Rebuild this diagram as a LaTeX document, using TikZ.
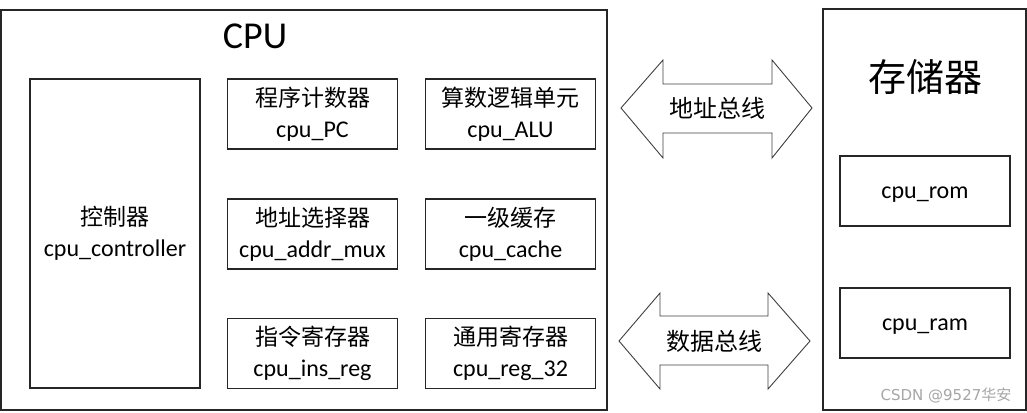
\documentclass[tikz,border=0pt]{standalone}
\usepackage{fontspec}
\setmainfont{Carlito}
\newfontfamily\cjk{Noto Sans CJK SC}
\begin{document}
\begin{tikzpicture}[x=1pt,y=-1pt,
  frame/.style={draw=black!85, line width=1.2pt},
  unit/.style={draw=black!85, line width=1.1pt, minimum width=170pt, minimum height=70pt, inner sep=0pt, align=center, font=\fontsize{24}{31}\selectfont},
  unittext/.style={font=\fontsize{24}{31}\selectfont, inner sep=0pt},
  bus/.style={draw=black!75, line width=0.9pt, fill=white},
  buslabel/.style={font=\fontsize{24}{28}\selectfont\cjk}]
\useasboundingbox (0,0) rectangle (1027,412);
\fill[white] (0,0) rectangle (1027,412);
% CPU frame
\draw[frame] (1,10) rectangle (607,410);
\node[font=\fontsize{38}{42}\selectfont] (cputitle) at (255,36) {CPU};
% controller
\node[unit, minimum height=309pt] (ctrl) at (115,233.5) {{\cjk\fontsize{23}{31}\selectfont 控制器}\\cpu\_controller};
% units
\node[unit] (pc)  at (312.5,114) {{\cjk\fontsize{23}{31}\selectfont 程序计数器}\\cpu\_PC};
\node[unit] (alu) at (510.5,114) {{\cjk\fontsize{23}{31}\selectfont 算数逻辑单元}\\cpu\_ALU};
\node[unit] (mux) at (312.5,234) {{\cjk\fontsize{23}{31}\selectfont 地址选择器}\\cpu\_addr\_mux};
\node[unit] (cache) at (510.5,234) {{\cjk\fontsize{23}{31}\selectfont 一级缓存}\\cpu\_cache};
\node[unit] (ins) at (312.5,353.5) {{\cjk\fontsize{23}{31}\selectfont 指令寄存器}\\cpu\_ins\_reg};
\node[unit] (reg) at (510.5,353.5) {{\cjk\fontsize{23}{31}\selectfont 通用寄存器}\\cpu\_reg\_32};
% memory frame
\draw[frame] (823,9) rectangle (1026,410);
\node[font=\fontsize{38}{42}\selectfont\cjk] (memtitle) at (925,77) {存储器};
\node[unit] (rom) at (925,191) {};
\node[unittext] (romtxt) at ([yshift=-4pt]rom.center) {cpu\_rom};
\node[unit] (ram) at (925,323) {};
\node[unittext] (ramtxt) at ([yshift=-4pt]ram.center) {cpu\_ram};
% address bus
\draw[bus] (621,108) -- (663,60) -- (663,84) -- (772,84) -- (772,60) -- (812,108)
  -- (772,158) -- (772,133) -- (663,133) -- (663,158) -- cycle;
\node[buslabel] (abus) at (717,108) {地址总线};
% data bus
\draw[bus] (619,341) -- (660,293) -- (660,316) -- (768,316) -- (768,293) -- (810,341)
  -- (768,389) -- (768,365) -- (660,365) -- (660,389) -- cycle;
\node[buslabel] (dbus) at (714,341) {数据总线};
% watermark
\node[text=black!35, font=\fontsize{15}{17}\selectfont] (wm) at (946,395) {\fontspec{DejaVu Sans}CSDN @9527{\cjk 华安}};
\end{tikzpicture}
\end{document}
